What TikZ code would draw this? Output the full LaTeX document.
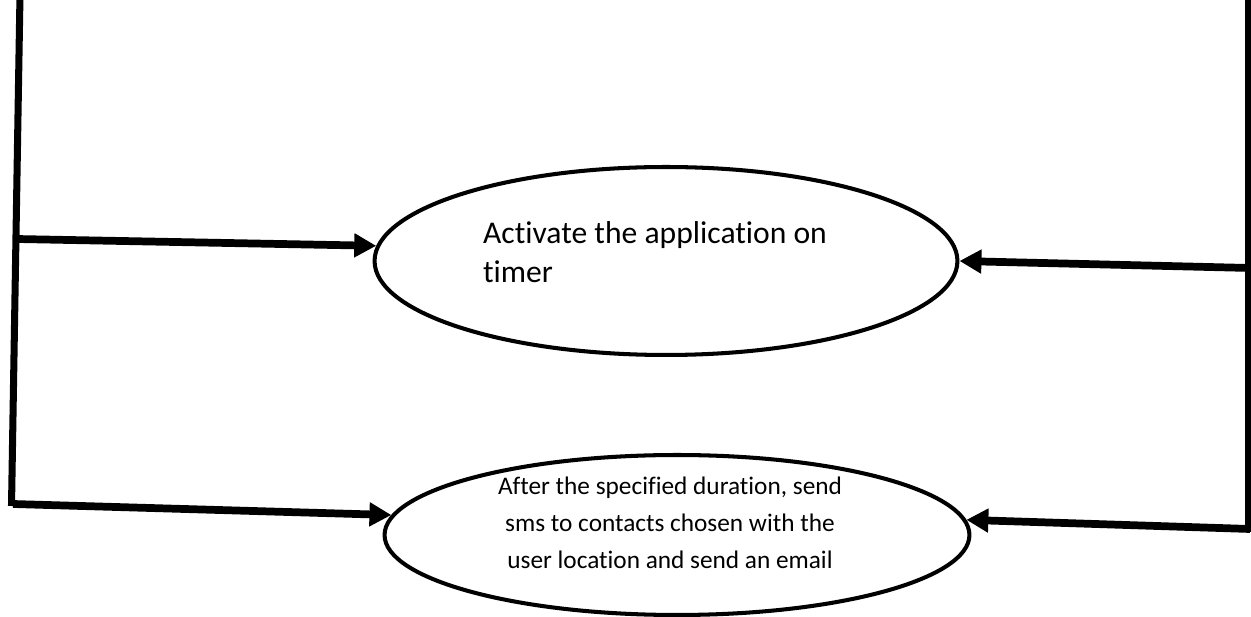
\documentclass[tikz,border=0pt]{standalone}
\usepackage{fontspec}
\setmainfont{Carlito}[Ligatures=NoCommon]
\usetikzlibrary{arrows.meta,shapes.geometric}

\tikzset{
	oval/.style={ellipse, draw, line width=2.3pt, inner sep=0pt},
	wall/.style={line width=4pt},
	flow/.style={line width=4.4pt, -{Triangle[length=12.5pt,width=13pt]}},
}

\begin{document}
\begin{tikzpicture}[x=0.02cm, y=-0.02cm]
				\useasboundingbox (0,0) rectangle (1251,617);
				
				%ovals
				\node[oval, minimum width=11.66cm, minimum height=3.76cm] (timer) at (666,261){};
				\node[oval, minimum width=11.7cm, minimum height=3.2cm] (sms) at (677,535){};
				
				\node[align=left, font=\fontsize{18}{22}\selectfont] (timertxt) at (655,252){Activate the application on\\timer};
				\node[align=center, font=\fontsize{14.4}{21}\selectfont] (smstxt) at (670,523){After the specified duration, send\\sms to contacts chosen with the\\user location and send an email};
				
				%side lines
				\coordinate (ltop) at (20,-5);
				\coordinate (lbot) at (11.5,506);
				\coordinate (rtop) at (1248,-5);
				\coordinate (rbot) at (1248,532);
				\draw[wall] (ltop) -- (lbot);
				\draw[wall] (rtop) -- (rbot);
				
				%arrows
				\coordinate (lup) at (16.5,239);
				\coordinate (ldown) at (13,504);
				\coordinate (rup) at (1250,268);
				\coordinate (rdown) at (1250,529);
				\draw[flow] (lup) -- (timer.177);
				\draw[flow] (rup) -- (timer.east);
				\draw[flow] (ldown) -- (sms.176);
				\draw[flow] (rdown) -- (sms.3);
			\end{tikzpicture}
\end{document}
